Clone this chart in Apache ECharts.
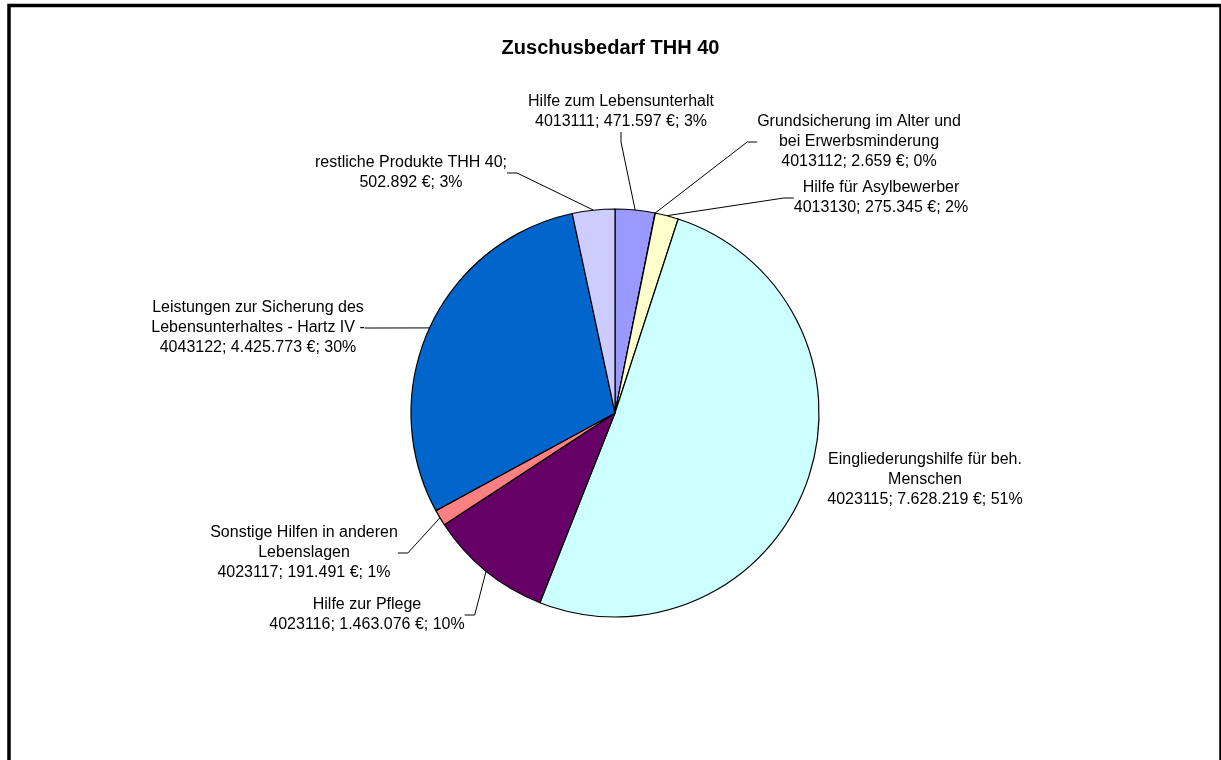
<!DOCTYPE html>
<html>
<head>
<meta charset="utf-8">
<script src="https://cdn.jsdelivr.net/npm/echarts@6/dist/echarts.min.js"></script>
<style>
  html, body { margin: 0; padding: 0; background: #fff; overflow: hidden; }
  #chart { width: 1221px; height: 760px; }
</style>
</head>
<body>
<div id="chart"></div>
<script>
// Daten aus der Grafik
const names = [
  'Hilfe zum Lebensunterhalt',
  'Grundsicherung im Alter und\nbei Erwerbsminderung',
  'Hilfe für Asylbewerber',
  'Eingliederungshilfe für beh.\nMenschen',
  'Hilfe zur Pflege',
  'Sonstige Hilfen in anderen\nLebenslagen',
  'Leistungen zur Sicherung des\nLebensunterhaltes - Hartz IV -',
  'restliche Produkte THH 40'
];
const codes = ['4013111', '4013112', '4013130', '4023115', '4023116', '4023117', '4043122', ''];
const values = [471597, 2659, 275345, 7628219, 1463076, 191491, 4425773, 502892];
const colors = ['#9999FF', '#993366', '#FFFFCC', '#CCFFFF', '#660066', '#FF8080', '#0066CC', '#CCCCFF'];

// Positionen der Beschriftungen (Mitte des Textblocks)
const labelPos = [
  [621, 112], [859, 142], [881, 198], [925, 480],
  [367, 615], [304, 553], [258, 328], [411, 173]
];

const total = values.reduce((a, b) => a + b, 0);

function tausender(n) {
  return String(n).replace(/\B(?=(\d{3})+(?!\d))/g, '.');
}

function beschriftung(p) {
  const i = p.dataIndex;
  const pct = Math.round(values[i] / total * 100) + '%';
  const betrag = tausender(values[i]) + ' €; ' + pct;
  if (codes[i]) return names[i] + '\n' + codes[i] + '; ' + betrag;
  return names[i] + ';\n' + betrag;
}

const chart = echarts.init(document.getElementById('chart'));
chart.setOption({
  animation: false,
  graphic: [{
    type: 'rect',
    shape: { x: 9, y: 5.5, width: 1212, height: 800 },
    style: { fill: 'none', stroke: '#000', lineWidth: 3.5 },
    silent: true
  }],
  title: {
    text: 'Zuschusbedarf THH 40',
    left: 'center',
    top: 33,
    textStyle: {
      fontFamily: 'Liberation Sans, Arial, sans-serif',
      fontSize: 20,
      fontWeight: 'bold',
      color: '#000'
    }
  },
  series: [{
    type: 'pie',
    center: [615, 413],
    radius: 204,
    startAngle: 90,
    clockwise: true,
    avoidLabelOverlap: false,
    itemStyle: { borderColor: '#000', borderWidth: 1.2 },
    emphasis: { disabled: true },
    label: {
      show: true,
      position: 'outside',
      formatter: beschriftung,
      fontFamily: 'Liberation Sans, Arial, sans-serif',
      fontSize: 16,
      lineHeight: 20,
      color: '#000',
      align: 'center'
    },
    labelLine: {
      show: true,
      length: 20,
      length2: 10,
      lineStyle: { color: '#000', width: 1 }
    },
    labelLayout: function (p) {
      const pos = labelPos[p.dataIndex];
      return { x: pos[0], y: pos[1], align: 'center', verticalAlign: 'middle' };
    },
    data: values.map((v, i) => ({
      value: v,
      name: names[i],
      itemStyle: { color: colors[i] },
      labelLine: { show: i !== 3 }
    }))
  }]
});
</script>
</body>
</html>
